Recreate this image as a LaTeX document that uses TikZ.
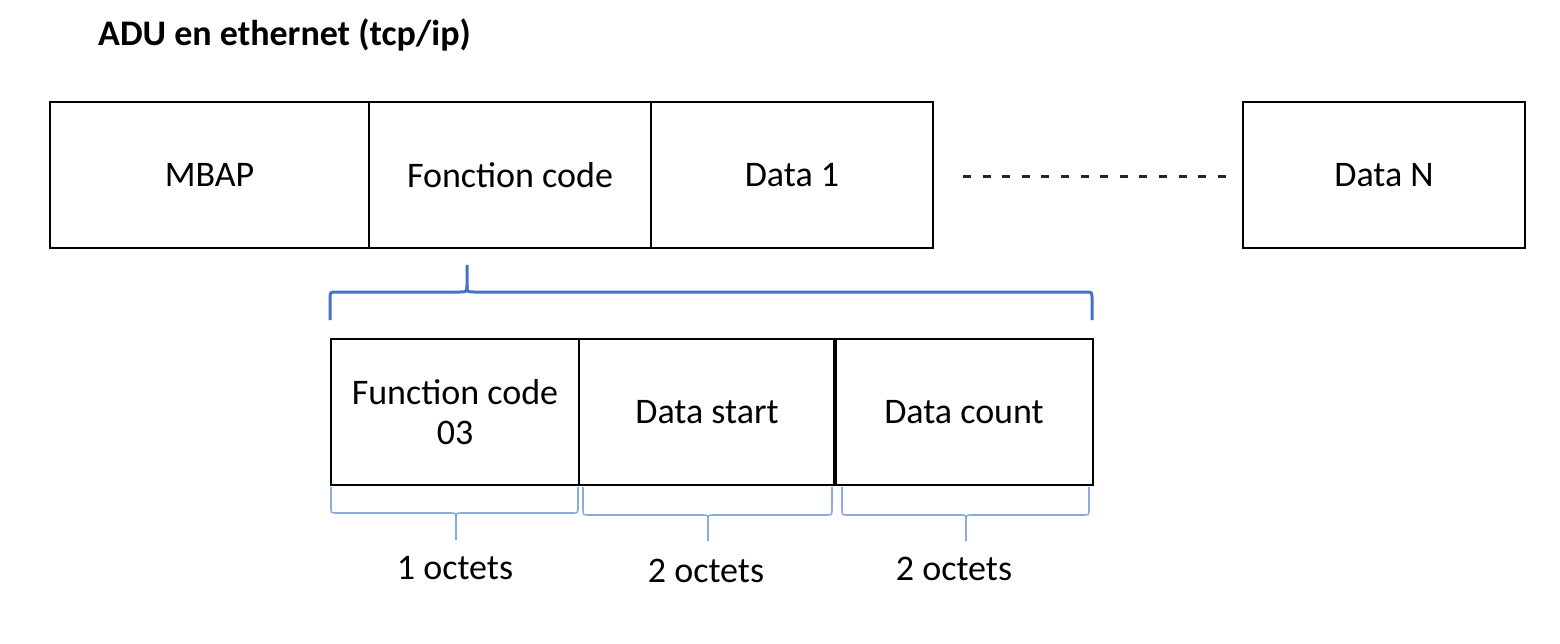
\documentclass[tikz,border=0pt]{standalone}
\usepackage{fontspec}
\setmainfont{Carlito}
\definecolor{bracebig}{HTML}{4472C4}
\definecolor{bracesmall}{HTML}{8EA9DB}
\newcommand\curlybr[7]{%
  \pgfmathsetmacro\brlegdir{(#5>#4) ? 1 : -1}%
  \pgfmathsetmacro\brtipdir{-\brlegdir}%
  \draw (#1,#5) -- (#1,{#4+\brlegdir*#7}) .. controls (#1,#4) .. ({#1+#7},#4)
        -- ({#3-#7},#4) .. controls (#3,#4) .. (#3,{#4+\brtipdir*#7}) -- (#3,#6);
  \draw (#3,{#4+\brtipdir*#7}) .. controls (#3,#4) .. ({#3+#7},#4)
        -- ({#2-#7},#4) .. controls (#2,#4) .. (#2,{#4+\brlegdir*#7}) -- (#2,#5);
}
\begin{document}
\begin{tikzpicture}[x=1pt,y=-1pt,
  cell/.style={draw=black,line width=2pt,minimum height=146pt,inner sep=0pt,outer sep=0pt,
    font=\fontsize{36}{44}\selectfont,align=center},
  lbl/.style={inner sep=0pt,font=\fontsize{36}{44}\selectfont},
  bigbr/.style={draw=bracebig,line width=3pt},
  smallbr/.style={draw=bracesmall,line width=1.6pt}]
\useasboundingbox (0,0) rectangle (1560,644);
% title
\node[lbl,anchor=base west,font=\fontsize{36}{44}\selectfont\bfseries] (title) at (98,46) {ADU en ethernet (tcp/ip)};
% top row
\node[cell,minimum width=319pt] (mbap) at (209.5,175) {MBAP};
\node[cell,minimum width=282pt] (fcode) at (510,175) {Fonction code};
\node[cell,minimum width=282pt] (data1) at (792,175) {Data 1};
\node[cell,minimum width=282pt] (datan) at (1384,175) {Data N};
\coordinate (dotsA) at (963,177);
\coordinate (dotsB) at (1226,177);
\draw[line width=3pt,black!85,dash pattern=on 8pt off 11.6pt] (dotsA) -- (dotsB);
% big brace
\begin{scope}[bigbr]
\curlybr{330}{1092}{467}{292}{320}{265}{7}
\end{scope}
% bottom row
\node[cell,minimum width=248pt] (fc03) at (455,412) {Function code\\[-4pt]03};
\node[cell,minimum width=256pt] (dstart) at (707,412) {Data start};
\node[cell,minimum width=258pt] (dcount) at (964,412) {Data count};
\draw[line width=3.5pt] (dstart.north east) -- (dstart.south east);
% small braces
\begin{scope}[smallbr]
\curlybr{331}{578}{456}{513}{487}{540}{6}
\curlybr{583}{832}{708}{515}{487}{541}{6}
\curlybr{842}{1089}{966}{515}{487}{541}{6}
\end{scope}
\node[lbl] (o1) at (455,568) {1 octets};
\node[lbl] (o2) at (706,571) {2 octets};
\node[lbl] (o3) at (954,569) {2 octets};
\end{tikzpicture}
\end{document}
